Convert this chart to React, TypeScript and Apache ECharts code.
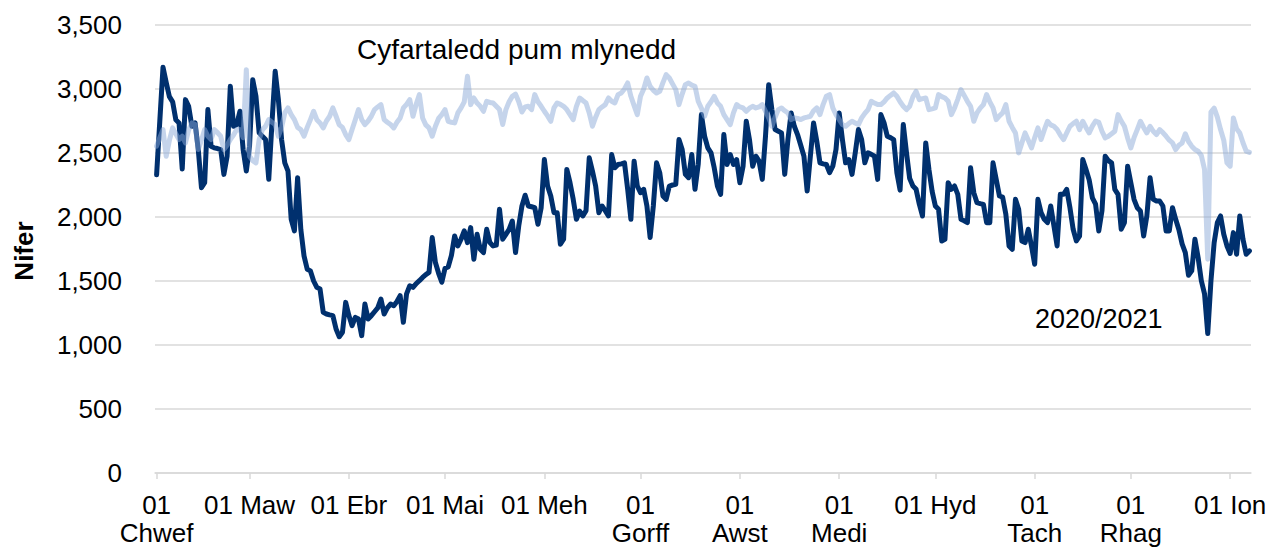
import React, { useEffect, useRef } from "react";
import * as echarts from "echarts";

// Daily values, 01 Feb 2020 – 07 Jan 2021
const series2020: number[] = [
  2330, 2750, 3170, 3050, 2940, 2900, 2760, 2735, 2375, 2917,
  2865, 2709, 2735, 2527, 2229, 2268, 2839, 2553, 2540, 2535,
  2527, 2333, 2475, 3021, 2709, 2722, 2826, 2527, 2359, 2553,
  3073, 2943, 2657, 2630, 2605, 2294, 2735, 3138, 2917, 2605,
  2423, 2359, 1982, 1891, 2307, 1904, 1696, 1592, 1579, 1500,
  1450, 1437, 1255, 1242, 1235, 1229, 1125, 1065, 1100, 1333,
  1230, 1151, 1216, 1203, 1073, 1320, 1203, 1229, 1260, 1290,
  1359, 1242, 1290, 1320, 1307, 1340, 1385, 1177, 1400, 1463,
  1450, 1480, 1502, 1528, 1550, 1567, 1839, 1644, 1560, 1490,
  1600, 1610, 1700, 1852, 1774, 1826, 1891, 1800, 1917, 1670,
  1865, 1748, 1722, 1904, 1800, 1774, 1780, 2060, 1826, 1865,
  1904, 1969, 1722, 1930, 2086, 2170, 2086, 2080, 2073, 1943,
  2073, 2449, 2242, 2164, 2034, 2034, 1787, 1826, 2372, 2268,
  2138, 1982, 2047, 2008, 2050, 2462, 2359, 2242, 2034, 2086,
  2050, 2008, 2488, 2385, 2410, 2415, 2423, 2216, 1982, 2436,
  2242, 2190, 2216, 2086, 1839, 2086, 2423, 2346, 2164, 2138,
  2242, 2250, 2255, 2605, 2527, 2333, 2307, 2488, 2216, 2410,
  2800, 2631, 2540, 2501, 2384, 2242, 2177, 2644, 2410, 2488,
  2410, 2449, 2268, 2397, 2748, 2605, 2397, 2475, 2436, 2294,
  2631, 3034, 2839, 2683, 2670, 2657, 2333, 2605, 2813, 2709,
  2644, 2560, 2475, 2203, 2475, 2735, 2592, 2423, 2415, 2410,
  2346, 2397, 2527, 2813, 2605, 2423, 2449, 2333, 2500, 2683,
  2605, 2423, 2501, 2490, 2475, 2294, 2800, 2735, 2631, 2620,
  2605, 2346, 2210, 2722, 2501, 2300, 2242, 2216, 2100, 2008,
  2579, 2372, 2200, 2086, 2060, 1813, 1826, 2268, 2216, 2242,
  2177, 1982, 1970, 1956, 2385, 2190, 2112, 2105, 2099, 1956,
  1956, 2423, 2294, 2164, 2155, 2021, 1774, 1748, 2138, 2060,
  1813, 1800, 1904, 1774, 1631, 2138, 2034, 1982, 1956, 2086,
  1930, 1774, 2177, 2177, 2216, 2073, 1904, 1813, 1850, 2449,
  2372, 2290, 2150, 2100, 1891, 2050, 2475, 2440, 2423, 2216,
  2177, 1904, 1956, 2397, 2268, 2138, 2073, 2047, 1852, 2008,
  2307, 2138, 2125, 2125, 2086, 1891, 1891, 2073, 1982, 1900,
  1790, 1722, 1545, 1579, 1826, 1683, 1502, 1400, 1090, 1500,
  1800, 1956, 2008, 1865, 1774, 1715, 1878, 1709, 2008, 1826,
  1709, 1735,
];

const fiveYearAverage: number[] = [
  2553, 2620, 2683, 2475, 2600, 2696, 2650, 2605, 2631, 2579,
  2680, 2735, 2722, 2527, 2600, 2683, 2631, 2605, 2683, 2660,
  2631, 2527, 2560, 2605, 2640, 2683, 2683, 2620, 3151, 2475,
  2440, 2423, 2605, 2680, 2709, 2761, 2740, 2722, 2631, 2700,
  2813, 2852, 2800, 2761, 2700, 2683, 2631, 2700, 2761, 2826,
  2760, 2735, 2696, 2750, 2787, 2852, 2787, 2720, 2700, 2644,
  2605, 2683, 2760, 2839, 2761, 2722, 2750, 2787, 2839, 2860,
  2878, 2761, 2740, 2722, 2696, 2740, 2774, 2852, 2880, 2917,
  2787, 2880, 2956, 2774, 2720, 2696, 2631, 2709, 2770, 2800,
  2839, 2748, 2740, 2735, 2813, 2852, 2900, 3099, 2878, 2930,
  2890, 2865, 2826, 2904, 2895, 2891, 2865, 2839, 2722, 2839,
  2900, 2943, 2960, 2900, 2820, 2860, 2865, 2839, 2956, 2900,
  2865, 2826, 2790, 2748, 2852, 2891, 2880, 2865, 2839, 2800,
  2761, 2865, 2930, 2910, 2891, 2813, 2709, 2780, 2839, 2860,
  2878, 2930, 2904, 2891, 2956, 2969, 3000, 3047, 2943, 2870,
  2800, 2943, 3000, 3086, 3021, 2990, 2969, 2982, 3050, 3112,
  3086, 3040, 2995, 2878, 2960, 3034, 3047, 3030, 3021, 2904,
  2850, 2787, 2865, 2900, 2943, 2891, 2865, 2800, 2761, 2722,
  2813, 2878, 2860, 2852, 2826, 2850, 2865, 2852, 2860, 2878,
  2826, 2774, 2709, 2780, 2839, 2852, 2830, 2813, 2761, 2774,
  2770, 2761, 2774, 2780, 2787, 2830, 2852, 2800, 2880, 2943,
  2956, 2852, 2800, 2761, 2722, 2709, 2730, 2748, 2735, 2722,
  2774, 2810, 2839, 2904, 2890, 2878, 2878, 2900, 2930, 2950,
  2969, 2943, 2900, 2865, 2839, 2865, 2940, 2982, 2917, 2925,
  2930, 2839, 2845, 2852, 2956, 2940, 2930, 2904, 2800, 2852,
  2920, 2995, 2950, 2904, 2865, 2748, 2813, 2850, 2878, 2956,
  2900, 2852, 2761, 2790, 2813, 2878, 2748, 2700, 2657, 2501,
  2579, 2657, 2600, 2540, 2620, 2696, 2605, 2680, 2748, 2720,
  2709, 2683, 2640, 2605, 2657, 2709, 2730, 2748, 2683, 2748,
  2700, 2657, 2710, 2750, 2740, 2670, 2618, 2631, 2650, 2670,
  2800, 2750, 2709, 2618, 2540, 2620, 2683, 2748, 2700, 2657,
  2709, 2670, 2644, 2683, 2660, 2631, 2600, 2579, 2527, 2560,
  2579, 2650, 2590, 2553, 2527, 2514, 2480, 2372, 1670, 2820,
  2850, 2780, 2683, 2600, 2423, 2397, 2774, 2690, 2657, 2580,
  2514, 2505,
];

// Month tick labels (Welsh), one per calendar month 1..12
const monthLabels: string[] = [
  "01 Ion", "01\nChwef", "01 Maw", "01 Ebr", "01 Mai", "01 Meh",
  "01\nGorff", "01\nAwst", "01\nMedi", "01 Hyd", "01\nTach", "01\nRhag",
];

const yTickValues = { min: 0, max: 3500, interval: 500 };

const seriesNames = ["2020/2021", "Cyfartaledd pum mlynedd"];

// category dates
const startUTC = Date.UTC(2020, 1, 1);
const dates: string[] = series2020.map((_, i) => {
  const d = new Date(startUTC + i * 86400000);
  const mm = String(d.getUTCMonth() + 1).padStart(2, "0");
  const dd = String(d.getUTCDate()).padStart(2, "0");
  return `${d.getUTCFullYear()}-${mm}-${dd}`;
});

const FONT = "'Liberation Sans', Arial, Helvetica, sans-serif";
const isMonthStart = (_i: number, v: string) => v.endsWith("-01");

export default function App() {
  const ref = useRef<HTMLDivElement>(null);
  useEffect(() => {
    if (!ref.current) return;
    const chart = echarts.init(ref.current, null, { renderer: "svg" });
    chart.setOption({
      animation: false,
      backgroundColor: "#ffffff",
      grid: { left: 155, right: 26, top: 25, bottom: 72, containLabel: false },
      xAxis: {
        type: "category",
        data: dates,
        boundaryGap: true,
        axisLine: { show: true, lineStyle: { color: "#d9d9d9", width: 1.5 } },
        axisTick: {
          show: true,
          alignWithLabel: true,
          interval: isMonthStart,
          length: 6,
          lineStyle: { color: "#d9d9d9", width: 1.5 },
        },
        axisLabel: {
          interval: isMonthStart,
          formatter: (v: string) => monthLabels[parseInt(v.slice(5, 7), 10) - 1],
          fontSize: 26,
          lineHeight: 28,
          fontFamily: FONT,
          color: "#000",
          margin: 18,
        },
        splitLine: { show: false },
      },
      yAxis: {
        type: "value",
        min: yTickValues.min,
        max: yTickValues.max,
        interval: yTickValues.interval,
        axisLine: { show: false },
        axisTick: { show: false },
        axisLabel: {
          formatter: (v: number) => v.toLocaleString("en-US"),
          fontSize: 26,
          fontFamily: FONT,
          color: "#000",
          margin: 33,
        },
        splitLine: { lineStyle: { color: "#d9d9d9", width: 1.5 } },
      },
      graphic: [
        {
          type: "text",
          x: 357,
          y: 49,
          silent: true,
          style: {
            text: seriesNames[1],
            fontSize: 28,
            fontFamily: FONT,
            fill: "#000",
            align: "left",
            verticalAlign: "middle",
          },
        },
        {
          type: "text",
          x: 1035,
          y: 319,
          silent: true,
          style: {
            text: seriesNames[0],
            fontSize: 27,
            fontFamily: FONT,
            fill: "#000",
            align: "left",
            verticalAlign: "middle",
          },
        },
        {
          type: "text",
          x: 24,
          y: 251,
          rotation: Math.PI / 2,
          silent: true,
          style: {
            text: "Nifer",
            fontSize: 26,
            fontWeight: "bold",
            fontFamily: FONT,
            fill: "#000",
            align: "center",
            verticalAlign: "middle",
          },
        },
      ],
      series: [
        {
          name: seriesNames[0],
          type: "line",
          data: series2020,
          showSymbol: false,
          symbol: "none",
          lineStyle: { color: "#00306e", width: 5, join: "round", cap: "round" },
          itemStyle: { color: "#00306e" },
          silent: true,
          z: 2,
        },
        {
          name: seriesNames[1],
          type: "line",
          data: fiveYearAverage,
          showSymbol: false,
          symbol: "none",
          lineStyle: { color: "rgba(140,170,216,0.5)", width: 5, join: "round", cap: "round" },
          itemStyle: { color: "rgba(140,170,216,0.5)" },
          silent: true,
          z: 3,
        },
      ],
    });
    return () => chart.dispose();
  }, []);
  return (
    <div
      ref={ref}
      style={{ position: "absolute", left: 0, top: 0, width: 1277, height: 547 }}
    />
  );
}
